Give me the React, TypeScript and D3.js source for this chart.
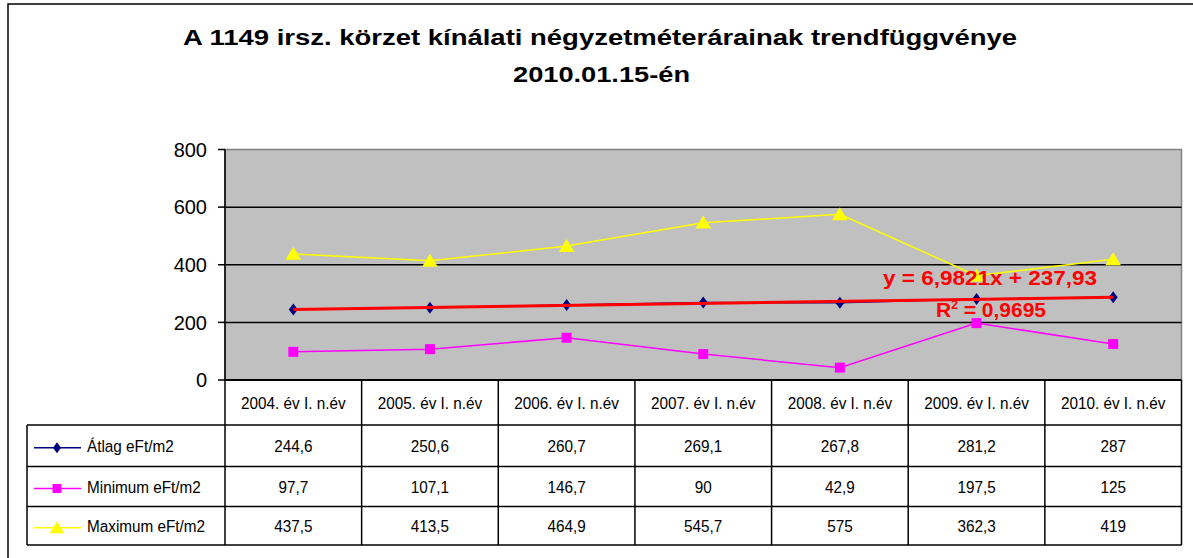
import React from "react";
import * as d3 from "d3";

const categories = [
  "2004. év I. n.év",
  "2005. év I. n.év",
  "2006. év I. n.év",
  "2007. év I. n.év",
  "2008. év I. n.év",
  "2009. év I. n.év",
  "2010. év I. n.év",
];
const atlag = [244.6, 250.6, 260.7, 269.1, 267.8, 281.2, 287];
const minimum = [97.7, 107.1, 146.7, 90, 42.9, 197.5, 125];
const maximum = [437.5, 413.5, 464.9, 545.7, 575, 362.3, 419];
const yTicks = [0, 200, 400, 600, 800];
const trendSlope = 6.9821;
const trendIntercept = 237.93;
const trendLabel = "y = 6,9821x + 237,93";
const r2Value = "0,9695";

const fmt = (v: number) => String(v).replace(".", ",");

const series = [
  { name: "Átlag eFt/m2", values: atlag, color: "#000080", marker: "diamond" },
  { name: "Minimum eFt/m2", values: minimum, color: "#FF00FF", marker: "square" },
  { name: "Maximum eFt/m2", values: maximum, color: "#FFFF00", marker: "triangle" },
];

const W = 1193;
const H = 558;
const plotL = 225;
const plotR = 1181.5;
const plotT = 149.5;
const plotB = 380;
const tableRows = [380, 425, 466.5, 506.5, 545];
const legendL = 27;

const sans = "'Liberation Sans', Arial, sans-serif";

function Marker({ type, x, y, color, s }: { type: string; x: number; y: number; color: string; s: number }) {
  if (type === "diamond") {
    const p = d3.path();
    p.moveTo(x, y - s * 0.6);
    p.lineTo(x + s * 0.45, y);
    p.lineTo(x, y + s * 0.6);
    p.lineTo(x - s * 0.45, y);
    p.closePath();
    return <path d={p.toString()} fill={color} />;
  }
  if (type === "square") {
    return <rect x={x - s / 2} y={y - s / 2} width={s} height={s} fill={color} />;
  }
  const p = d3.path();
  p.moveTo(x, y - s * 0.55);
  p.lineTo(x + s * 0.6, y + s * 0.45);
  p.lineTo(x - s * 0.6, y + s * 0.45);
  p.closePath();
  return <path d={p.toString()} fill={color} />;
}

function NText({ x, y, anchor, children }: { x: number; y: number; anchor?: string; children: React.ReactNode }) {
  return (
    <text
      transform={`translate(${x},${y}) scale(0.9,1)`}
      dy="0.36em"
      textAnchor={anchor || "middle"}
      fontFamily={sans}
      fontSize={17}
    >
      {children}
    </text>
  );
}

export default function App() {
  const x = d3.scaleBand<string>().domain(categories).range([plotL, plotR]);
  const xc = (i: number) => (x(categories[i]) as number) + x.bandwidth() / 2;
  const y = d3.scaleLinear().domain([0, 800]).range([plotB, plotT]);
  const line = d3
    .line<number>()
    .x((_, i) => xc(i))
    .y((v) => y(v));
  const trendY = (i: number) => y(trendSlope * (i + 1) + trendIntercept);

  return (
    <svg width={W} height={H} style={{ position: "absolute", left: 0, top: 0 }}>
      <rect x={0} y={0} width={W} height={H} fill="#fff" />
      <rect x={8} y={4} width={W} height={H} fill="none" stroke="#000" strokeWidth={1.5} />
      <text x={183} y={45} textLength={834} lengthAdjust="spacingAndGlyphs" fontFamily={sans} fontWeight="bold" fontSize={22}>
        A 1149 irsz. körzet kínálati négyzetméterárainak trendfüggvénye
      </text>
      <text x={513} y={82} textLength={177} lengthAdjust="spacingAndGlyphs" fontFamily={sans} fontWeight="bold" fontSize={22}>
        2010.01.15-én
      </text>

      {/* plot area */}
      <rect x={plotL} y={plotT} width={plotR - plotL} height={plotB - plotT} fill="#C0C0C0" stroke="#808080" strokeWidth={1.5} />
      {yTicks.map((t) => (
        <g key={t}>
          {t > 0 && t < 800 && <line x1={plotL} x2={plotR} y1={y(t)} y2={y(t)} stroke="#000" strokeWidth={1.5} />}
          <line x1={218} x2={plotL} y1={y(t)} y2={y(t)} stroke="#000" strokeWidth={1.5} />
          <text x={207} y={y(t)} dy="0.36em" textAnchor="end" fontFamily={sans} fontSize={20}>
            {t}
          </text>
        </g>
      ))}
      <line x1={plotL} x2={plotL} y1={plotT} y2={plotB} stroke="#000" strokeWidth={1.5} />

      {/* series lines */}
      {series.map((s) => (
        <path key={s.name} d={line(s.values) as string} fill="none" stroke={s.color} strokeWidth={1.5} />
      ))}
      {series.map((s) =>
        s.values.map((v, i) => (
          <Marker key={s.name + i} type={s.marker} x={xc(i)} y={y(v)} color={s.color} s={s.marker === "triangle" ? 13 : 10} />
        ))
      )}
      {/* trend line */}
      <line x1={xc(0)} y1={trendY(0)} x2={xc(6)} y2={trendY(6)} stroke="#FF0000" strokeWidth={3} />
      <text x={883} y={285} textLength={214} lengthAdjust="spacingAndGlyphs" fontFamily={sans} fontWeight="bold" fontSize={20} fill="#FF0000">
        {trendLabel}
      </text>
      <text x={991} y={317} textAnchor="middle" fontFamily={sans} fontWeight="bold" fontSize={21} fill="#FF0000">
        R<tspan dy={-8} fontSize={12}>2</tspan>
        <tspan dy={8}> = {r2Value}</tspan>
      </text>

      {/* table */}
      <line x1={plotL} x2={plotR} y1={plotB} y2={plotB} stroke="#000" strokeWidth={2} />
      {categories.map((c, i) => (
        <g key={c}>
          <line x1={x(c) as number} x2={x(c) as number} y1={tableRows[0]} y2={tableRows[4]} stroke="#000" strokeWidth={1.5} />
          <NText x={xc(i)} y={(tableRows[0] + tableRows[1]) / 2}>{c}</NText>
        </g>
      ))}
      <line x1={plotR} x2={plotR} y1={tableRows[0]} y2={tableRows[4]} stroke="#000" strokeWidth={1.5} />
      <line x1={legendL} x2={legendL} y1={tableRows[1]} y2={tableRows[4]} stroke="#000" strokeWidth={1.5} />
      {tableRows.slice(1).map((r) => (
        <line key={r} x1={legendL} x2={plotR} y1={r} y2={r} stroke="#000" strokeWidth={1.5} />
      ))}
      {series.map((s, si) => {
        const cy = (tableRows[si + 1] + tableRows[si + 2]) / 2;
        return (
          <g key={s.name}>
            <line x1={34} x2={81} y1={cy + 2} y2={cy + 2} stroke={s.color} strokeWidth={1.5} />
            <Marker type={s.marker} x={57} y={cy + 2} color={s.color} s={s.marker === "triangle" ? 12 : 9} />
            <NText x={87} y={cy} anchor="start">{s.name}</NText>
            {s.values.map((v, i) => (
              <NText key={i} x={xc(i)} y={cy}>{fmt(v)}</NText>
            ))}
          </g>
        );
      })}
    </svg>
  );
}
